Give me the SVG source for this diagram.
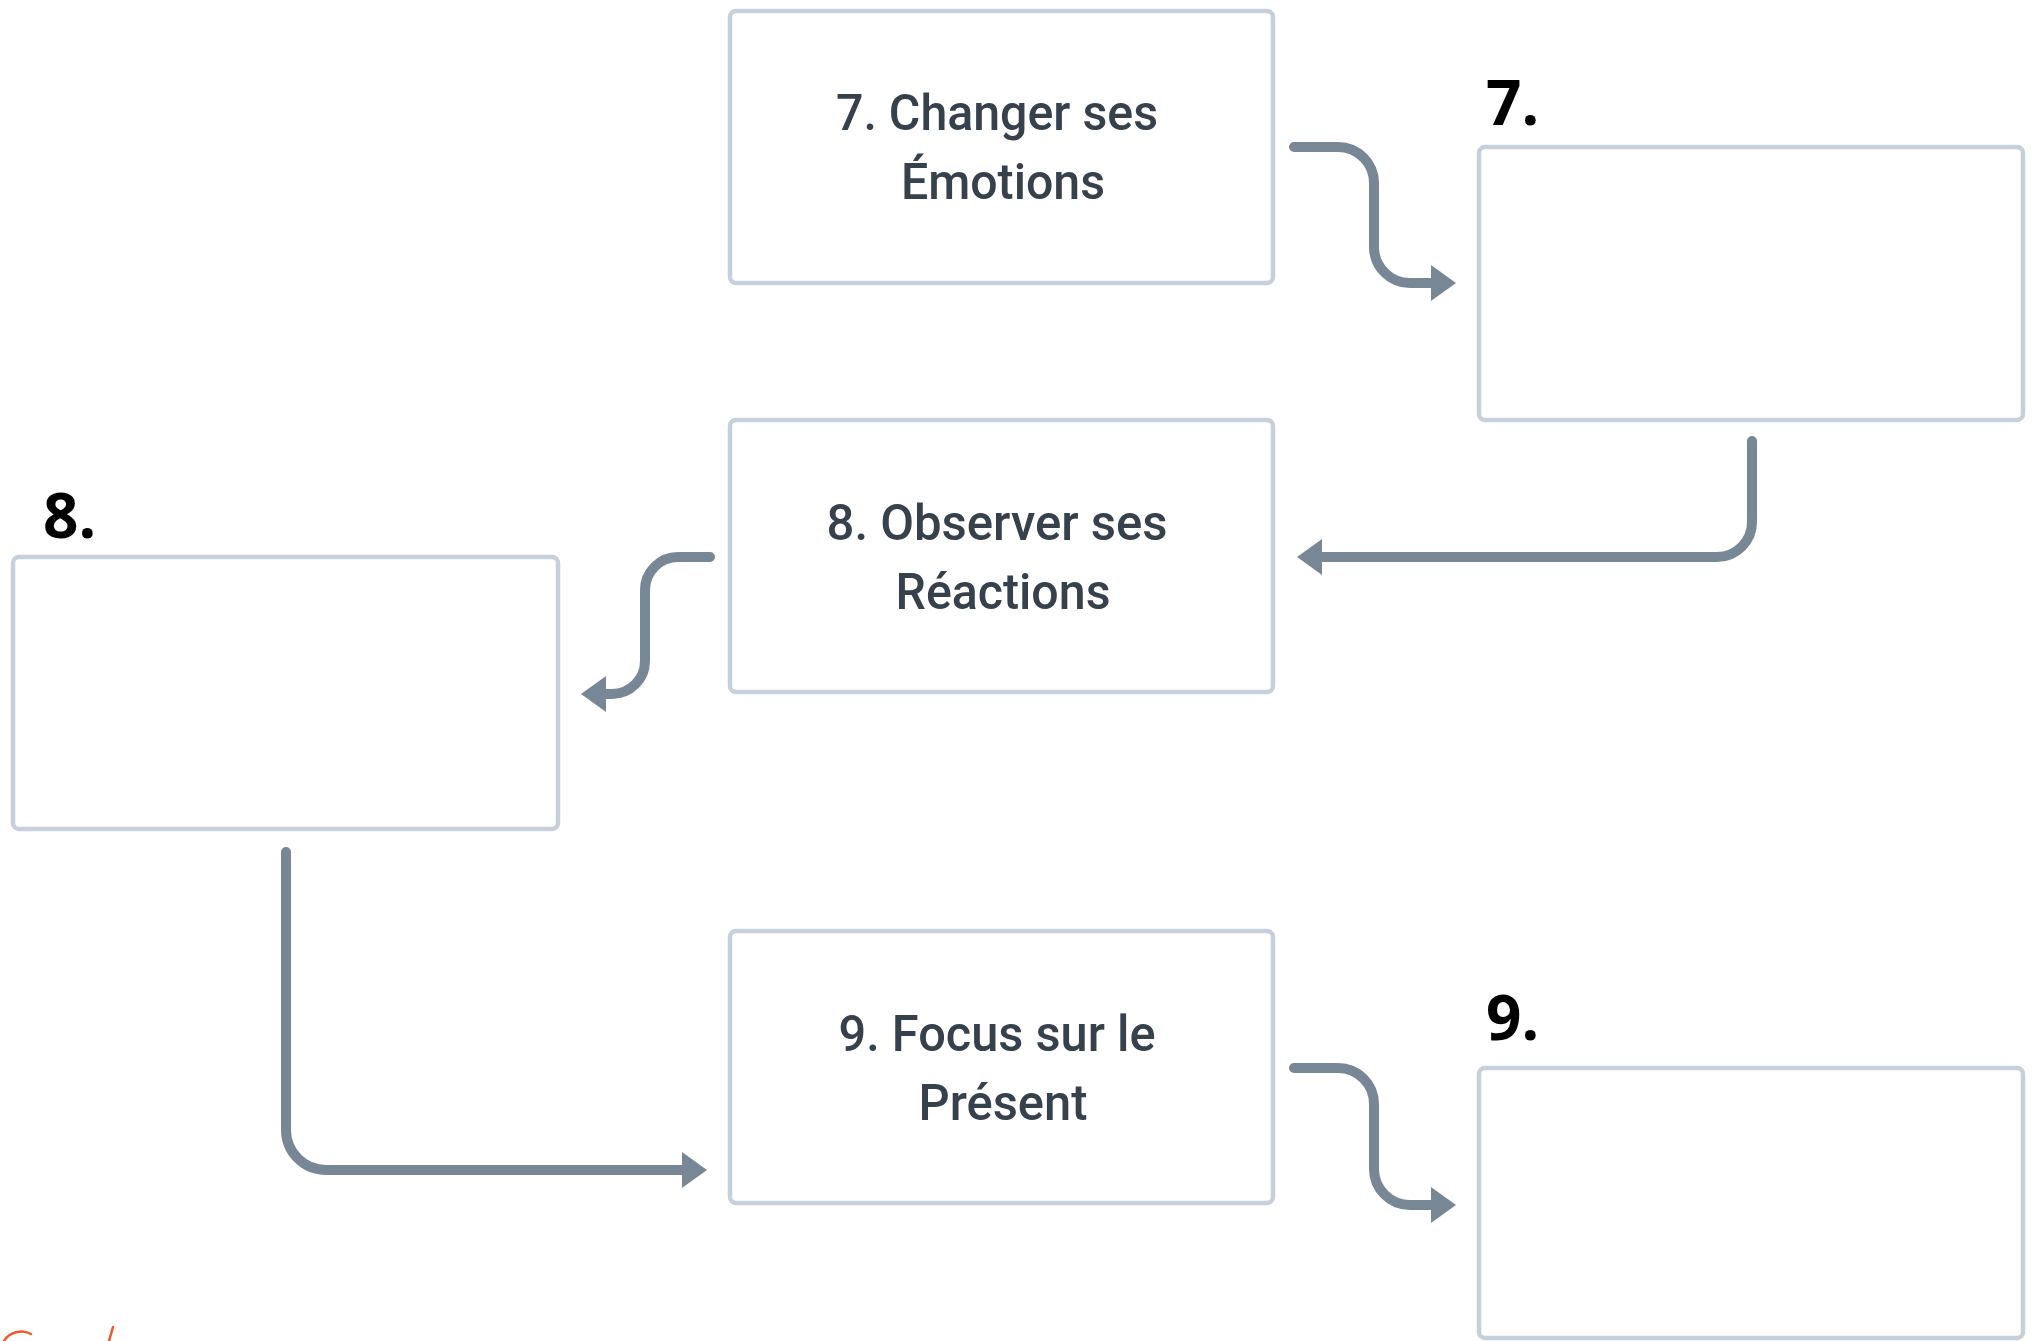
<svg xmlns="http://www.w3.org/2000/svg" width="2033" height="1341" viewBox="0 0 2033 1341">
  <style>
    .box { fill: #ffffff; stroke: #c6d0da; stroke-width: 4.5; }
    .step { font-family: Roboto, "Liberation Sans", sans-serif; font-weight: 500; font-size: 50px; fill: #36414c; text-anchor: middle; }
    .num { font-family: "Open Sans", "Liberation Sans", sans-serif; font-weight: 700; font-size: 62px; fill: #000000; }
    .link { fill: none; stroke: #788795; stroke-width: 10; stroke-linecap: round; stroke-linejoin: round; }
    .ink { fill: none; stroke: #f2582c; stroke-width: 2.5; stroke-linecap: round; }
  </style>
  <defs>
    <marker id="head" markerUnits="userSpaceOnUse" markerWidth="28" markerHeight="38" viewBox="-1 -19 28 38" refX="0" refY="0" orient="auto">
      <path d="M0,-18 L25,0 L0,18 Z" fill="#788795"/>
    </marker>
  </defs>

  <rect width="2033" height="1341" fill="#ffffff"/>

  <!-- step 7 -->
  <g id="step7">
    <rect class="box" x="730" y="11" width="543" height="272" rx="6"/>
    <text class="step" x="997" y="130" textLength="322" lengthAdjust="spacingAndGlyphs">7. Changer ses</text>
    <text class="step" x="1003" y="199" textLength="204" lengthAdjust="spacingAndGlyphs">Émotions</text>
  </g>
  <g id="answer7">
    <text class="num" x="1486" y="125">7.</text>
    <rect class="box" x="1479" y="147" width="544" height="273" rx="6"/>
  </g>

  <!-- step 8 -->
  <g id="step8">
    <rect class="box" x="730" y="420" width="543" height="272" rx="6"/>
    <text class="step" x="997" y="540" textLength="341" lengthAdjust="spacingAndGlyphs">8. Observer ses</text>
    <text class="step" x="1003" y="609" textLength="215" lengthAdjust="spacingAndGlyphs">Réactions</text>
  </g>
  <g id="answer8">
    <text class="num" x="43" y="538">8.</text>
    <rect class="box" x="13" y="557" width="545" height="272" rx="6"/>
  </g>

  <!-- step 9 -->
  <g id="step9">
    <rect class="box" x="730" y="931" width="543" height="272" rx="6"/>
    <text class="step" x="997" y="1051" textLength="317" lengthAdjust="spacingAndGlyphs">9. Focus sur le</text>
    <text class="step" x="1003" y="1120" textLength="169" lengthAdjust="spacingAndGlyphs">Présent</text>
  </g>
  <g id="answer9">
    <text class="num" x="1486" y="1040">9.</text>
    <rect class="box" x="1479" y="1068" width="544" height="270" rx="6"/>
  </g>

  <!-- connectors -->
  <g id="connectors">
    <path class="link" marker-end="url(#head)" d="M1294,147 H1338 A36,36 0 0 1 1374,183 V247 A36,36 0 0 0 1410,283 H1431"/>
    <path class="link" marker-end="url(#head)" d="M1752,441 V522 A35,35 0 0 1 1717,557 H1322"/>
    <path class="link" marker-end="url(#head)" d="M710,557 H678 A33,33 0 0 0 645,590 V661 A33,33 0 0 1 612,694 H606"/>
    <path class="link" marker-end="url(#head)" d="M286,852 V1130 A40,40 0 0 0 326,1170 H682"/>
    <path class="link" marker-end="url(#head)" d="M1294,1068 H1338 A36,36 0 0 1 1374,1104 V1169 A36,36 0 0 0 1410,1205 H1431"/>
  </g>

  <!-- handwritten mark, bottom-left corner -->
  <g id="ink">
    <path class="ink" d="M31,1334 C22,1329 9,1332 4,1341"/>
    <path class="ink" d="M113,1327 L109,1341"/>
  </g>
</svg>
